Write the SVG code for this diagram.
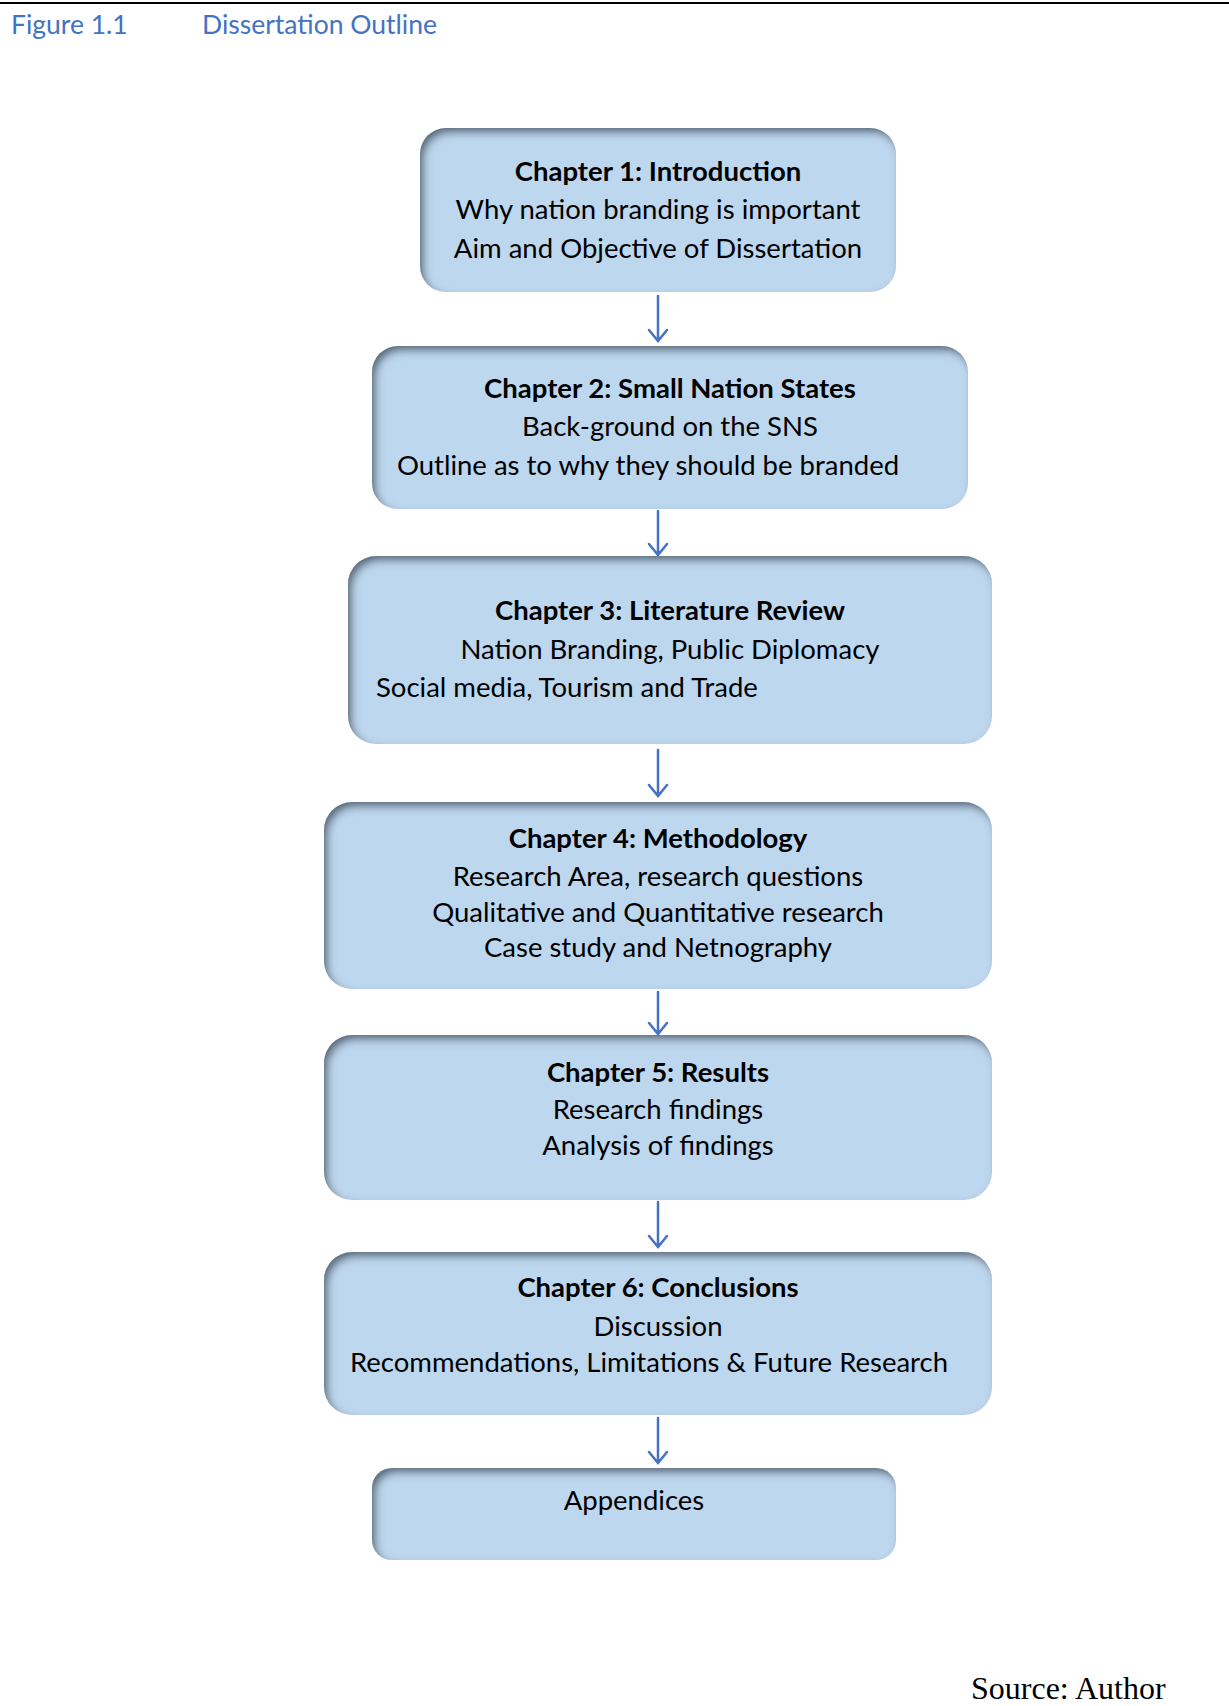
<svg xmlns="http://www.w3.org/2000/svg" width="1229" height="1706" viewBox="0 0 1229 1706">
<defs>
<style>
.box{fill:#BDD7EE;filter:url(#inset)}
.t{font-family:Lato,"Noto Sans",sans-serif;font-size:27.5px;fill:#000}
.b{font-weight:bold}
.m{text-anchor:middle}
.hdr{font-family:Lato,"Noto Sans",sans-serif;font-size:26.5px;fill:#4472C4}
.src{font-family:"Liberation Serif",serif;font-size:32px;fill:#000}
.arr{stroke:#4472C4;stroke-width:2.5;fill:none;stroke-linecap:round;stroke-linejoin:miter}
</style>
<filter id="inset" x="-10%" y="-20%" width="120%" height="140%">
<feFlood flood-color="#3b4a5c" flood-opacity="0.9"/>
<feComposite in2="SourceAlpha" operator="out" result="inv"/>
<feGaussianBlur in="inv" stdDeviation="4"/>
<feOffset dx="4" dy="5" result="sh"/>
<feComposite in="sh" in2="SourceAlpha" operator="in" result="inner"/>
<feMerge><feMergeNode in="SourceGraphic"/><feMergeNode in="inner"/></feMerge>
</filter>
</defs>
<rect width="1229" height="1706" fill="#fff"/>
<line x1="0" y1="3" x2="1229" y2="3" stroke="#000" stroke-width="2"/>
<text class="hdr" x="11" y="34">Figure 1.1</text>
<text class="hdr" x="202" y="34">Dissertation Outline</text>

<g id="connectors">
<path class="arr" d="M658,296 V341 M649,330 L658,341 L667,330"/>
<path class="arr" d="M658,511 V555 M649,544 L658,555 L667,544"/>
<path class="arr" d="M658,750 V796 M649,785 L658,796 L667,785"/>
<path class="arr" d="M658,992 V1034 M649,1023 L658,1034 L667,1023"/>
<path class="arr" d="M658,1202 V1247 M649,1236 L658,1247 L667,1236"/>
<path class="arr" d="M658,1418 V1463 M649,1452 L658,1463 L667,1452"/>
</g>

<g id="ch1">
<rect class="box" x="420" y="128" width="476" height="164" rx="26"/>
<text class="t b m" x="658" y="181">Chapter 1: Introduction</text>
<text class="t m" x="658" y="219">Why nation branding is important</text>
<text class="t m" x="658" y="258">Aim and Objective of Dissertation</text>
</g>

<g id="ch2">
<rect class="box" x="372" y="346" width="596" height="163" rx="26"/>
<text class="t b m" x="670" y="398">Chapter 2: Small Nation States</text>
<text class="t m" x="670" y="436">Back-ground on the SNS</text>
<text class="t m" x="648" y="475">Outline as to why they should be branded</text>
</g>

<g id="ch3">
<rect class="box" x="348" y="556" width="644" height="188" rx="28"/>
<text class="t b m" x="670" y="620">Chapter 3: Literature Review</text>
<text class="t m" x="670" y="659">Nation Branding, Public Diplomacy</text>
<text class="t" x="376" y="697">Social media, Tourism and Trade</text>
</g>

<g id="ch4">
<rect class="box" x="324" y="802" width="668" height="187" rx="28"/>
<text class="t b m" x="658" y="848">Chapter 4: Methodology</text>
<text class="t m" x="658" y="886">Research Area, research questions</text>
<text class="t m" x="658" y="922">Qualitative and Quantitative research</text>
<text class="t m" x="658" y="957">Case study and Netnography</text>
</g>

<g id="ch5">
<rect class="box" x="324" y="1035" width="668" height="165" rx="28"/>
<text class="t b m" x="658" y="1082">Chapter 5: Results</text>
<text class="t m" x="658" y="1119">Research findings</text>
<text class="t m" x="658" y="1155">Analysis of findings</text>
</g>

<g id="ch6">
<rect class="box" x="324" y="1252" width="668" height="163" rx="28"/>
<text class="t b m" x="658" y="1297">Chapter 6: Conclusions</text>
<text class="t m" x="658" y="1336">Discussion</text>
<text class="t m" x="649" y="1372">Recommendations, Limitations &amp; Future Research</text>
</g>

<g id="appendices">
<rect class="box" x="372" y="1468" width="524" height="92" rx="20"/>
<text class="t m" x="634" y="1510">Appendices</text>
</g>

<text class="src" x="971" y="1699">Source: Author</text>
</svg>
